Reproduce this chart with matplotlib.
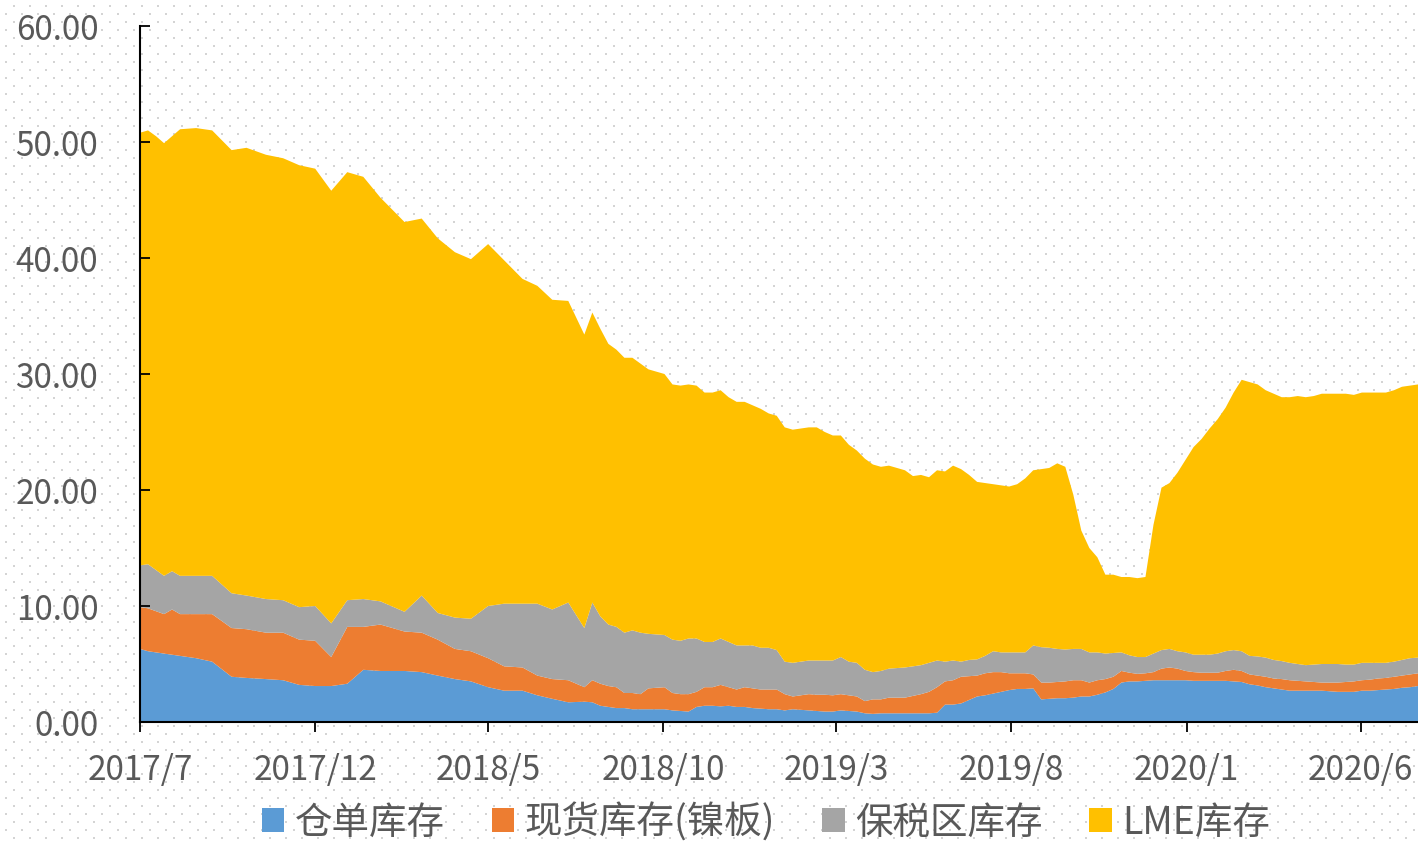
import numpy as np
import pandas as pd
import matplotlib
matplotlib.use("Agg")
import matplotlib.pyplot as plt
from matplotlib.patches import Patch

plt.rcParams["font.family"] = ["Noto Sans CJK SC", "DejaVu Sans"]

SERIES_NAMES = ["仓单库存", "现货库存(镍板)", "保税区库存", "LME库存"]
COLORS = ["#5B9BD5", "#ED7D31", "#A5A5A5", "#FFC000"]

# irregular sampling up to mid 2018, weekly afterwards
dates = [
    "2017-07-07", "2017-07-14", "2017-07-21", "2017-07-28", "2017-08-04", "2017-08-11",
    "2017-08-25", "2017-09-08", "2017-09-25", "2017-10-08", "2017-10-25", "2017-11-09",
    "2017-11-23", "2017-12-07", "2017-12-21", "2018-01-04", "2018-01-18", "2018-02-02",
    "2018-02-23", "2018-03-10", "2018-03-24", "2018-04-08", "2018-04-22", "2018-05-07",
    "2018-05-21", "2018-06-06", "2018-06-19", "2018-07-02", "2018-07-16",
    "2018-07-30", "2018-08-06", "2018-08-13", "2018-08-20", "2018-08-27", "2018-09-03",
    "2018-09-10", "2018-09-17", "2018-09-24", "2018-10-01", "2018-10-08", "2018-10-15",
    "2018-10-22", "2018-10-29", "2018-11-05", "2018-11-12", "2018-11-19", "2018-11-26",
    "2018-12-03", "2018-12-10", "2018-12-17", "2018-12-24", "2018-12-31", "2019-01-07",
    "2019-01-14", "2019-01-21", "2019-01-28", "2019-02-04", "2019-02-11", "2019-02-18",
    "2019-02-25", "2019-03-04", "2019-03-11", "2019-03-18", "2019-03-25", "2019-04-01",
    "2019-04-08", "2019-04-15", "2019-04-22", "2019-04-29", "2019-05-06", "2019-05-13",
    "2019-05-20", "2019-05-27", "2019-06-03", "2019-06-10", "2019-06-17", "2019-06-24",
    "2019-07-01", "2019-07-08", "2019-07-15", "2019-07-22", "2019-07-29", "2019-08-05",
    "2019-08-12", "2019-08-19", "2019-08-26", "2019-09-02", "2019-09-09", "2019-09-16",
    "2019-09-23", "2019-09-30", "2019-10-07", "2019-10-14", "2019-10-21", "2019-10-28",
    "2019-11-04", "2019-11-11", "2019-11-18", "2019-11-25", "2019-12-02", "2019-12-09",
    "2019-12-16", "2019-12-23", "2019-12-30", "2020-01-06", "2020-01-13", "2020-01-20",
    "2020-01-27", "2020-02-03", "2020-02-10", "2020-02-17", "2020-02-24", "2020-03-02",
    "2020-03-09", "2020-03-16", "2020-03-23", "2020-03-30", "2020-04-06", "2020-04-13",
    "2020-04-20", "2020-04-27", "2020-05-04", "2020-05-11", "2020-05-18", "2020-05-25",
    "2020-06-01", "2020-06-08", "2020-06-15", "2020-06-22", "2020-06-29", "2020-07-06",
    "2020-07-13", "2020-07-20", "2020-07-27",
]

warrant_stock = [
    6.3, 6.1, 6.0, 5.9, 5.8, 5.7, 5.5, 5.2, 3.9, 3.8, 3.7, 3.6, 3.2, 3.1, 3.1, 3.3, 4.5, 4.4,
    4.4, 4.3, 4.0, 3.7, 3.5, 3.0, 2.7, 2.7, 2.3, 2.0, 1.7,
    1.75, 1.7, 1.4, 1.3, 1.2, 1.2, 1.1, 1.1, 1.1, 1.1, 1.1, 1.0, 0.95, 0.9, 1.3, 1.4, 1.4, 1.35,
    1.4, 1.3, 1.3, 1.2, 1.15, 1.1, 1.1, 1.0, 1.1, 1.05, 1.0, 0.95, 0.9, 0.9, 1.0, 0.95, 0.9,
    0.75, 0.7, 0.75, 0.75, 0.75, 0.75, 0.75, 0.75, 0.75, 0.8, 1.5, 1.5, 1.6, 1.9, 2.2, 2.3,
    2.45, 2.6, 2.75, 2.85, 2.85, 2.9, 1.95, 2.0, 2.05, 2.05, 2.1, 2.2, 2.2, 2.35, 2.55, 2.85,
    3.4, 3.5, 3.5, 3.55, 3.6, 3.6, 3.6, 3.6, 3.6, 3.55, 3.55, 3.55, 3.55, 3.55, 3.5, 3.45,
    3.25, 3.15, 3.0, 2.9, 2.8, 2.7, 2.7, 2.7, 2.7, 2.7, 2.65, 2.6, 2.6, 2.6, 2.7, 2.7, 2.75,
    2.8, 2.85, 2.95, 3.0, 3.1,
]
spot_stock = [
    3.6, 3.7, 3.55, 3.4, 3.9, 3.6, 3.8, 4.1, 4.2, 4.2, 4.0, 4.1, 3.9, 3.9, 2.5, 4.9, 3.7, 4.0,
    3.4, 3.4, 3.1, 2.6, 2.6, 2.5, 2.1, 2.0, 1.7, 1.7, 1.9,
    1.25, 1.9, 1.9, 1.8, 1.8, 1.3, 1.4, 1.3, 1.8, 1.85, 1.9, 1.5, 1.45, 1.5, 1.3, 1.6, 1.6, 1.85,
    1.6, 1.5, 1.7, 1.7, 1.65, 1.7, 1.7, 1.4, 1.1, 1.25, 1.4, 1.4, 1.45, 1.4, 1.4, 1.35, 1.3,
    1.05, 1.25, 1.2, 1.35, 1.35, 1.35, 1.5, 1.65, 1.85, 2.2, 2.0, 2.1, 2.3, 2.05, 1.8, 1.9,
    1.85, 1.7, 1.45, 1.35, 1.35, 1.2, 1.45, 1.4, 1.4, 1.45, 1.5, 1.4, 1.2, 1.25, 1.15, 1.05,
    1.0, 0.75, 0.65, 0.65, 0.7, 1.0, 1.1, 1.0, 0.8, 0.75, 0.7, 0.7, 0.7, 0.85, 1.0, 0.95,
    0.85, 0.85, 0.9, 0.85, 0.9, 0.9, 0.85, 0.8, 0.75, 0.7, 0.75, 0.8, 0.85, 0.9, 0.9, 0.95, 1.0,
    1.0, 1.05, 1.05, 1.1, 1.1,
]
bonded_stock = [
    3.6, 3.8, 3.55, 3.3, 3.3, 3.3, 3.3, 3.3, 3.0, 2.9, 2.9, 2.8, 2.8, 3.0, 2.9, 2.3, 2.4, 2.0,
    1.7, 3.2, 2.3, 2.7, 2.8, 4.5, 5.4, 5.5, 6.2, 6.0, 6.7,
    5.1, 6.7, 5.8, 5.3, 5.2, 5.2, 5.4, 5.3, 4.7, 4.6, 4.5, 4.6, 4.6, 4.8, 4.6, 3.9, 3.9, 4.0,
    3.9, 3.8, 3.6, 3.7, 3.6, 3.6, 3.4, 2.8, 2.9, 2.9, 2.9, 2.95, 2.95, 3.0, 3.2, 2.9, 2.9,
    2.7, 2.35, 2.45, 2.5, 2.55, 2.6, 2.55, 2.5, 2.5, 2.3, 1.7, 1.7, 1.3, 1.4, 1.4, 1.5,
    1.8, 1.7, 1.8, 1.8, 1.8, 2.5, 3.05, 3.0, 2.85, 2.75, 2.7, 2.7, 2.6, 2.4, 2.2, 2.05,
    1.6, 1.5, 1.45, 1.4, 1.6, 1.6, 1.6, 1.5, 1.6, 1.5, 1.55, 1.55, 1.65, 1.7, 1.7, 1.7,
    1.6, 1.65, 1.65, 1.6, 1.55, 1.5, 1.45, 1.4, 1.5, 1.6, 1.6, 1.6, 1.5, 1.45, 1.5, 1.45, 1.35,
    1.3, 1.3, 1.35, 1.4, 1.35,
]
lme_stock = [
    37.3, 37.4, 37.4, 37.3, 37.5, 38.5, 38.6, 38.4, 38.2, 38.6, 38.3, 38.1, 38.1, 37.7, 37.3,
    36.9, 36.4, 34.8, 33.6, 32.5, 32.3, 31.5, 31.0, 31.2, 29.6, 28.0, 27.4, 26.7, 26.0,
    25.3, 25.0, 24.8, 24.2, 23.9, 23.7, 23.5, 23.2, 22.8, 22.65, 22.5, 22.0, 22.0, 21.9, 21.8,
    21.5, 21.5, 21.4, 21.1, 21.0, 21.0, 20.7, 20.6, 20.2, 20.2, 20.2, 20.1, 20.1, 20.1, 20.1,
    19.7, 19.4, 19.1, 18.7, 18.3, 18.2, 17.9, 17.6, 17.5, 17.25, 17.0, 16.4, 16.4, 16.0, 16.4,
    16.4, 16.8, 16.6, 15.95, 15.3, 14.9, 14.4, 14.4, 14.3, 14.5, 15.0, 15.1, 15.35, 15.5, 16.0,
    15.75, 13.3, 10.2, 9.0, 8.2, 6.8, 6.75, 6.5, 6.75, 6.8, 6.9, 11.1, 14.0, 14.3, 15.4, 16.6,
    17.9, 18.6, 19.5, 20.2, 21.0, 22.2, 23.4, 23.6, 23.45, 23.05, 22.95, 22.75, 22.9, 23.1,
    23.1, 23.15, 23.3, 23.3, 23.3, 23.35, 23.25, 23.3, 23.3, 23.3, 23.3, 23.4, 23.55, 23.5,
    23.55,
]

tick_dates = ["2017-07-07", "2017-12-07", "2018-05-07", "2018-10-07",
              "2019-03-07", "2019-08-07", "2020-01-07", "2020-06-07"]
tick_labels = ["2017/7", "2017/12", "2018/5", "2018/10",
               "2019/3", "2019/8", "2020/1", "2020/6"]
y_ticks = [0, 10, 20, 30, 40, 50, 60]

W, H = 1418, 843
fig = plt.figure(figsize=(W / 100, H / 100), dpi=100)
fig.patch.set_facecolor("white")

# dotted background pattern over the whole chart area
bg = fig.add_axes([0, 0, 1, 1], zorder=-5)
bg.set_xlim(0, W)
bg.set_ylim(H, 0)
bg.axis("off")
rows = np.arange(6, H, 8)
pts_x, pts_y = [], []
for r in rows:
    start = 14 if (r // 8) % 2 == 0 else 6
    xs = np.arange(start, W, 16)
    pts_x.append(xs)
    pts_y.append(np.full(len(xs), r))
bg.scatter(np.concatenate(pts_x), np.concatenate(pts_y), s=2.2, marker="s",
           color="#d4d4d4", linewidths=0)

ax = fig.add_axes([140 / W, 1 - 722 / H, 1 - 140 / W, (722 - 26) / H])
ax.set_facecolor("none")

x = pd.to_datetime(dates)
ax.stackplot(x, warrant_stock, spot_stock, bonded_stock, lme_stock,
             colors=COLORS, linewidth=0, labels=SERIES_NAMES)

ax.set_xlim(x[0], x[-1])
ax.set_ylim(0, 60)
ax.set_yticks(y_ticks)
ax.set_yticklabels([f"{v:.2f}" for v in y_ticks])
ax.set_xticks(pd.to_datetime(tick_dates))
ax.set_xticklabels(tick_labels)

for side in ["top", "right"]:
    ax.spines[side].set_visible(False)
for side in ["left", "bottom"]:
    ax.spines[side].set_color("black")
    ax.spines[side].set_linewidth(1.5)
    ax.spines[side].set_zorder(5)

ax.tick_params(axis="y", direction="in", length=7.5, width=1.3, pad=30,
               labelsize=24, labelcolor="#595959", color="black")
ax.tick_params(axis="x", direction="out", length=7.5, width=1.3, pad=15,
               labelsize=24, labelcolor="#595959", color="black")

handles = [Patch(facecolor=c, edgecolor="none", label=n) for c, n in zip(COLORS, SERIES_NAMES)]
leg = fig.legend(handles=handles, loc="center", ncol=4, frameon=False,
                 bbox_to_anchor=(766 / W, 1 - 823 / H), fontsize=27,
                 handlelength=0.6, handleheight=0.6, handletextpad=0.28,
                 columnspacing=1.25)
for t in leg.get_texts():
    t.set_color("#595959")

fig.savefig("out.png", dpi=100)
